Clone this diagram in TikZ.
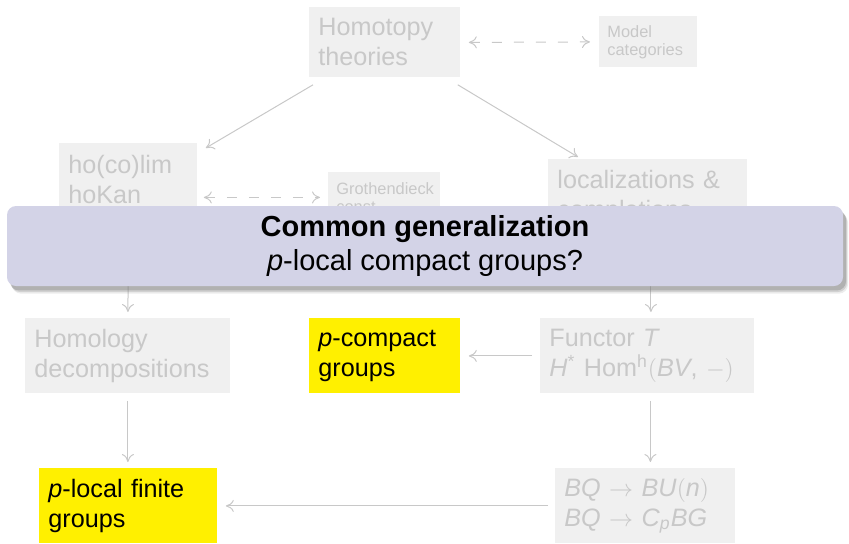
\documentclass[tikz,border=0pt]{standalone}
\usepackage{fontspec}
\setmainfont{Liberation Sans}
\usetikzlibrary{arrows.meta,positioning,shadows}
\definecolor{FadeFill}{HTML}{F0F0F0}
\definecolor{FadeText}{HTML}{C8C8C8}
\definecolor{FadeLine}{HTML}{C8C8C8}
\definecolor{HiYellow}{HTML}{FFF000}
\definecolor{BannerBlue}{HTML}{D3D3E7}
\newcommand\topicfont{\fontsize{12.6}{15}\selectfont}
\newcommand\asidefont{\fontsize{8.2}{9}\selectfont}
\newcommand\bannerfont{\fontsize{14.5}{17}\selectfont}
\tikzset{
  topic/.style={fill=FadeFill, text=FadeText, font=\topicfont, align=left,
                anchor=north west, inner xsep=4.5pt, inner ysep=0pt,
                minimum height=37.5pt},
  aside/.style={topic, font=\asidefont, inner xsep=4pt},
  goal/.style={topic, fill=HiYellow, text=black},
  link/.style={-{To[length=4pt,width=6pt]}, FadeLine, line width=0.5pt},
  duallink/.style={{To[length=4pt,width=6pt]}-{To[length=4pt,width=6pt]},
                   FadeLine, line width=0.5pt, dash pattern=on 5pt off 6pt},
  banner/.style={fill=BannerBlue, rounded corners=4.5pt, align=center,
                 font=\bannerfont, minimum width=418pt, minimum height=40pt,
                 drop shadow={shadow xshift=2.5pt, shadow yshift=-3.8pt, opacity=0.15},
                 drop shadow={shadow xshift=2pt, shadow yshift=-3pt, opacity=0.25},
                 drop shadow={shadow xshift=1.5pt, shadow yshift=-2.2pt, opacity=0.4}},
}

\begin{document}
\begin{tikzpicture}[x=0.5pt, y=-0.5pt]
  \useasboundingbox (0,0) rectangle (849,543);

  % top row
  \node[topic, text width=66.5pt, minimum height=35pt] (homotopy) at (309,7) {Homotopy\\theories};
  \node[aside, text width=41pt, minimum height=25.5pt] (model) at (599,16) {Model\\categories};

  % middle row, partly hidden behind the banner
  \node[topic, text width=60pt, minimum height=36pt] (holim) at (59,143) {ho(co)lim\\hoKan};
  \node[aside, text width=48pt, minimum height=25pt] (groth) at (328,172) {Grothendieck\\const.};
  \node[topic, text width=90.5pt, minimum height=38pt] (local) at (548,159) {localizations \&\\completions};

  \node[topic, text width=93.5pt] (homology) at (25,318) {Homology\\decompositions};
  \node[goal, text width=66.5pt] (pcompact) at (309,318) {\textit{p}-compact\\groups};
  \node[topic, text width=98pt] (functor) at (540,318)
    {Functor \textit{T}\\\textit{H}\textsuperscript{*} Hom\textsuperscript{h}$($\textit{BV}, $-)$};

  % bottom row
  \node[goal, text width=80pt] (plocal) at (39,468) {\textit{p}-local finite\\groups};
  \node[topic, text width=81pt] (bq) at (555,468)
    {\textit{BQ} $\rightarrow$ \textit{BU}$($\textit{n}$)$\\\textit{BQ} $\rightarrow$ \textit{C}\textsubscript{\textit{p}}\textit{BG}};

  \draw[duallink, shorten <=4pt, shorten >=4.5pt] (homotopy.east) -- (model.west);
  \draw[duallink, shorten <=3pt, shorten >=4pt] (holim.east |- groth.west) -- (groth.west);
  \draw[link] ([shift={(4,7)}]homotopy.south west) -- ([shift={(8,5)}]holim.north east);
  \draw[link] ([shift={(-3,7)}]homotopy.south east) -- ([shift={(30,-2)}]local.north west);
  \draw[link, shorten >=3pt] (holim.south) -- (homology.north);
  \draw[link, shorten >=3pt] ([xshift=1.5pt]local.south) -- ([xshift=1.5pt]local.south |- functor.north);
  \draw[link, shorten <=3.5pt, shorten >=3pt] (homology.south) -- (homology.south |- plocal.north);
  \draw[link, shorten <=3.5pt, shorten >=3pt] ([xshift=1.5pt]functor.south) -- ([xshift=1.5pt]functor.south |- bq.north);
  \draw[link, shorten <=4pt, shorten >=4pt] (functor.west) -- (pcompact.east);
  \draw[link, shorten <=3.5pt, shorten >=4pt] (bq.west) -- (plocal.east);

  \node[banner] (common) at (425,246)
    {\textbf{Common generalization}\\\textit{p}-local compact groups?};
\end{tikzpicture}
\end{document}
